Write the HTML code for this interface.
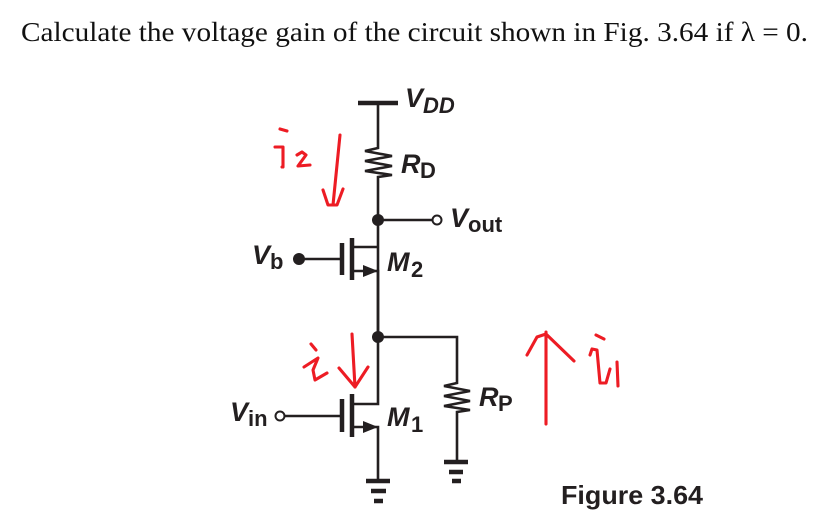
<!DOCTYPE html>
<html><head><meta charset="utf-8"><style>
html,body{margin:0;padding:0;background:#fff}
svg{display:block}
.l{font-family:"Liberation Sans",sans-serif;font-weight:bold;font-style:italic;fill:#231f20;font-size:27px}
.s{font-family:"Liberation Sans",sans-serif;font-weight:bold;fill:#231f20;font-size:22px}
.w{stroke:#231f20;stroke-width:2.6;fill:none}
.b{stroke:#231f20;fill:none}
.r{stroke:#ed1c24;stroke-width:3.1;fill:none;stroke-linecap:round;stroke-linejoin:round}
</style></head><body>
<svg width="831" height="525" viewBox="0 0 831 525" xmlns="http://www.w3.org/2000/svg">
<rect width="831" height="525" fill="#fff"/>
<text x="21" y="41" font-family="'Liberation Serif',serif" font-size="27" fill="#111" textLength="787" lengthAdjust="spacingAndGlyphs">Calculate the voltage gain of the circuit shown in Fig. 3.64 if λ = 0.</text>

<!-- top rail and RD -->
<path class="b" stroke-width="4.5" d="M358 103H398"/>
<path class="w" d="M378 103V148L365 151L392 156L365 161L392 166L365 171L392 175L378 177V337"/>
<circle cx="378" cy="220" r="6" fill="#231f20"/>
<path class="w" d="M378 220H432"/>
<circle cx="437" cy="220" r="4.5" fill="#fff" stroke="#231f20" stroke-width="2"/>

<!-- M2 -->
<path class="w" d="M378 247H352"/>
<path class="b" stroke-width="4.5" d="M352 238V280M342 243V275"/>
<path class="w" d="M299 259H342"/>
<circle cx="299" cy="259" r="6" fill="#231f20"/>
<path class="w" d="M352 271H378V337"/>
<path d="M378 271L363 265V277Z" fill="#231f20"/>

<!-- middle node and RP -->
<circle cx="378" cy="337" r="6" fill="#231f20"/>
<path class="w" d="M378 337H457V383L444 386L470 391L444 396L470 401L444 406L470 410L457 412V462"/>
<path class="b" stroke-width="4.5" d="M444 462H468M449 472H463M452 481H461"/>

<!-- M1 -->
<path class="w" d="M378 337V404H352"/>
<path class="b" stroke-width="4.5" d="M352 394V437M342 399V432"/>
<path class="w" d="M285 416H342"/>
<circle cx="280" cy="416" r="4.5" fill="#fff" stroke="#231f20" stroke-width="2"/>
<path class="w" d="M352 427H378V481"/>
<path d="M378 427L363 421V433Z" fill="#231f20"/>
<path class="b" stroke-width="4.5" d="M366 481H390M371 491H386M374 501H383"/>

<!-- labels -->
<text class="l" x="405" y="107">V</text><text class="l" x="423" y="113" style="font-size:22px">DD</text>
<text class="l" x="401" y="173">R</text><text class="s" x="420" y="178">D</text>
<text class="l" x="450" y="227">V</text><text class="s" x="468" y="232">out</text>
<text class="l" x="252" y="264">V</text><text class="s" x="270" y="269">b</text>
<text class="l" x="387" y="271">M</text><text class="s" x="411" y="277">2</text>
<text class="l" x="230" y="421">V</text><text class="s" x="248" y="426">in</text>
<text class="l" x="387" y="426">M</text><text class="s" x="411" y="432">1</text>
<text class="l" x="479" y="406">R</text><text class="s" x="498" y="411">P</text>
<text x="561" y="504" font-family="'Liberation Sans',sans-serif" font-weight="bold" font-size="26" fill="#231f20" textLength="142" lengthAdjust="spacingAndGlyphs">Figure 3.64</text>

<!-- red handwriting -->
<path class="r" d="M280 129L287 131M275 147L283 147L283 167L282 167"/>
<path class="r" d="M297 155L302 152L306 155L298 166L310 165"/>
<path class="r" d="M340 135L333 205M323 190L328 205L337 205L343 189"/>
<path class="r" d="M311 344L316 350M304 367L318 358L313 370L315 380L327 373"/>
<path class="r" d="M352 334L355 387M339 368L355 387L368 367"/>
<path class="r" d="M546 424V332M527 355L537 337L546 334L574 361"/>
<path class="r" d="M596 335L604 339M590 355L592 349L597 350L600 383L606 383L610 369M617 362L618 386"/>
</svg>
</body></html>
